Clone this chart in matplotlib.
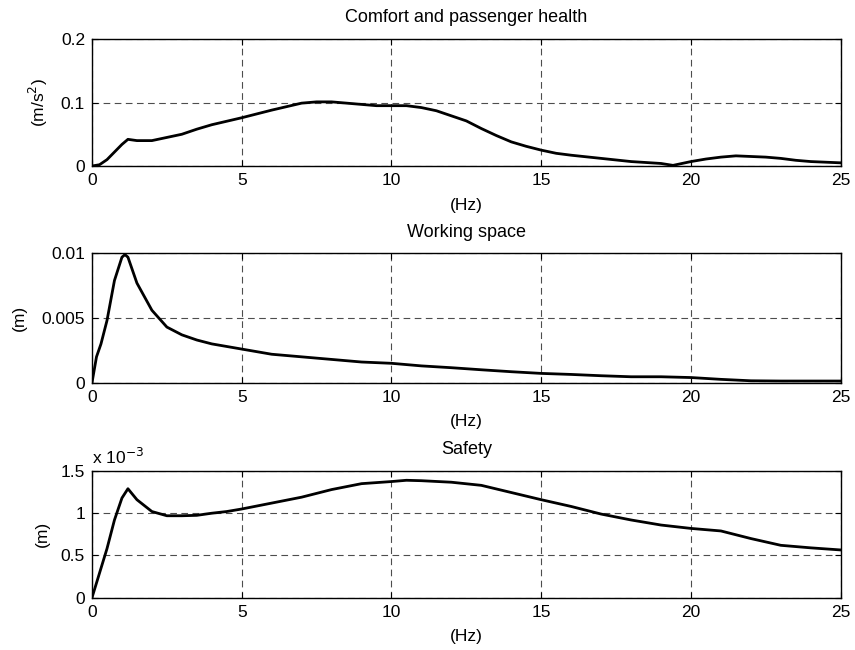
import matplotlib
matplotlib.use("Agg")
import matplotlib.pyplot as plt
import numpy as np

plt.rcParams['font.family'] = ['Liberation Sans', 'DejaVu Sans']
plt.rcParams['font.size'] = 12.5

# frequency axis (Hz) for each curve
f_comfort = [0, 0.25, 0.5, 0.75, 1.0, 1.2, 1.5, 2, 2.5, 3, 3.5, 4, 5, 6, 7, 7.5, 8, 8.5, 9, 9.5,
             10, 10.5, 11, 11.5, 12, 12.5, 13, 13.5, 14, 14.5, 15, 15.5, 16, 17, 18, 19, 19.4,
             20, 20.5, 21, 21.5, 22, 22.5, 23, 23.5, 24, 25]
comfort = [0, 0.002, 0.01, 0.022, 0.034, 0.042, 0.04, 0.04, 0.045, 0.05, 0.058, 0.065, 0.076,
           0.088, 0.099, 0.101, 0.101, 0.099, 0.097, 0.095, 0.095, 0.095, 0.092, 0.087, 0.079,
           0.071, 0.059, 0.048, 0.038, 0.031, 0.025, 0.02, 0.017, 0.012, 0.007, 0.004, 0.001,
           0.007, 0.011, 0.014, 0.016, 0.015, 0.014, 0.012, 0.009, 0.007, 0.005]

f_space = [0, 0.15, 0.3, 0.5, 0.75, 1.0, 1.1, 1.2, 1.5, 2, 2.5, 3, 3.5, 4, 5, 6, 7, 8, 9, 10,
           11, 12, 13, 14, 15, 16, 17, 18, 19, 20, 21, 22, 23, 24, 25]
space = [0, 0.002, 0.003, 0.0048, 0.0079, 0.0097, 0.0099, 0.0097, 0.0077, 0.0056, 0.0043,
         0.0037, 0.0033, 0.003, 0.0026, 0.0022, 0.002, 0.0018, 0.0016, 0.0015, 0.0013, 0.00116,
         0.001, 0.00085, 0.00072, 0.00064, 0.00054, 0.00046, 0.00046, 0.0004, 0.00026, 0.00015,
         0.00013, 0.00013, 0.00013]

f_safety = [0, 0.25, 0.5, 0.75, 1.0, 1.2, 1.5, 2, 2.5, 3, 3.5, 4, 4.5, 5, 6, 7, 8, 9, 10, 10.5,
            11, 12, 13, 14, 15, 16, 17, 18, 19, 20, 21, 22, 23, 24, 25]
safety = [0, 0.29, 0.58, 0.92, 1.18, 1.29, 1.16, 1.02, 0.97, 0.97, 0.975, 1.0, 1.02, 1.05, 1.12,
          1.19, 1.28, 1.35, 1.375, 1.39, 1.385, 1.367, 1.33, 1.245, 1.16, 1.08, 0.99, 0.92,
          0.86, 0.82, 0.79, 0.70, 0.62, 0.59, 0.565]  # x 10^-3 m

fig = plt.figure(figsize=(8.55, 6.5), dpi=100)
ax1 = fig.add_axes([0.1076, 0.7446, 0.8757, 0.1954])
ax2 = fig.add_axes([0.1076, 0.4112, 0.8757, 0.1991])
ax3 = fig.add_axes([0.1076, 0.0805, 0.8757, 0.1949])

panels = [
    (ax1, f_comfort, comfort, "Comfort and passenger health", "(m/s$^2$)", [0, 0.1, 0.2], ["0", "0.1", "0.2"], -0.056),
    (ax2, f_space, space, "Working space", "(m)", [0, 0.005, 0.01], ["0", "0.005", "0.01"], -0.087),
    (ax3, f_safety, safety, "Safety", "(m)", [0, 0.5, 1, 1.5], ["0", "0.5", "1", "1.5"], -0.056),
]

for ax, f, y, title, ylab, yt, ytl, ylx in panels:
    ax.plot(f, y, color='black', lw=2)
    ax.set_xlim(0, 25)
    ax.set_ylim(yt[0], yt[-1])
    ax.set_xticks([0, 5, 10, 15, 20, 25])
    ax.set_yticks(yt)
    ax.set_yticklabels(ytl)
    ax.grid(True, color='0.3', linestyle=(0, (6, 4)), lw=0.8)
    ax.tick_params(direction='in', length=4, width=0.8, top=True, right=True,
                   labelsize=12.5, pad=5)
    for s in ax.spines.values():
        s.set_linewidth(1.0)
    ax.set_title(title, fontsize=13, pad=12)
    ax.set_xlabel("(Hz)", fontsize=12.5, labelpad=7)
    ax.set_ylabel(ylab, fontsize=12.5)
    ax.yaxis.set_label_coords(ylx, 0.5)

ax3.text(0.0, 1.03, "x 10$^{\\mathrm{-3}}$", transform=ax3.transAxes, fontsize=12.5, ha='left', va='bottom')

fig.savefig("out.png", dpi=100)
